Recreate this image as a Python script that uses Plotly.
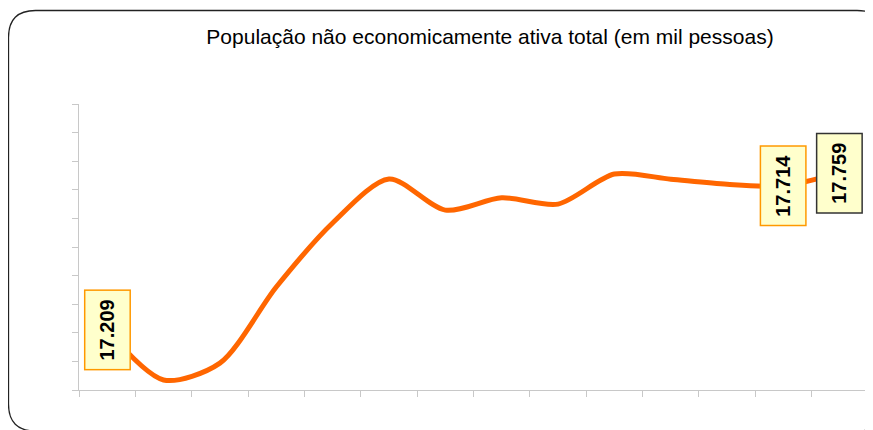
import plotly.graph_objects as go

# Data
periods = list(range(14))
values = [17.209, 17.035, 17.094, 17.360, 17.584, 17.738, 17.629, 17.672,
          17.650, 17.755, 17.737, 17.719, 17.714, 17.759]
label_idx = [0, 12, 13]
label_texts = ["17.209", "17.714", "17.759"]
label_borders = ["#FF9900", "#FF9900", "#333333"]
title_text = "População não economicamente ativa total (em mil pessoas)"

# page has an 8px body margin; work in window pixels and shift
OFF = 8
W, H = 873 - OFF, 430 - OFF
PL, PR, PT, PB = 79, 868, 104, 390   # plot area in window pixels
L, R, T, B = PL - OFF, W - (PR - OFF), PT - OFF, H - (PB - OFF)
pw, ph = PR - PL, PB - PT

def px_to_paper(x, y):
    return (x - PL) / pw, (PB - y) / ph

fig = go.Figure()
fig.add_trace(go.Scatter(
    x=periods, y=values, mode="lines",
    line=dict(color="#FF6600", width=5, shape="spline", smoothing=0.8),
    hoverinfo="skip", showlegend=False, cliponaxis=False,
))

for i, t, bc in zip(label_idx, label_texts, label_borders):
    fig.add_annotation(
        x=periods[i], y=values[i], text="<b>%s</b>" % t, showarrow=False,
        textangle=-90, xanchor="center", yanchor="middle",
        width=74, height=40, align="center", valign="middle",
        font=dict(family="Liberation Sans, Arial", size=20, color="black"),
        bgcolor="#FFFFCC", bordercolor=bc, borderwidth=1.5, borderpad=2,
    )

# rounded outer border (window pixels)
x0, y0, x1, y1, r = 8.5, 10.5, 884, 431, 27
def P(x, y):
    a, b = px_to_paper(x, y)
    return "%.5f,%.5f" % (a, b)
path = ("M " + P(x0 + r, y0) + " L " + P(x1 - r, y0) +
        " Q " + P(x1, y0) + " " + P(x1, y0 + r) +
        " L " + P(x1, y1 - r) + " Q " + P(x1, y1) + " " + P(x1 - r, y1) +
        " L " + P(x0 + r, y1) + " Q " + P(x0, y1) + " " + P(x0, y1 - r) +
        " L " + P(x0, y0 + r) + " Q " + P(x0, y0) + " " + P(x0 + r, y0) + " Z")
fig.add_shape(type="path", path=path, xref="paper", yref="paper",
              line=dict(color="#222222", width=1.3), layer="below")

fig.update_layout(
    width=W, height=H,
    margin=dict(l=L, r=R, t=T, b=B),
    paper_bgcolor="white", plot_bgcolor="white",
    title=dict(text=title_text, x=(490 - OFF) / W, xanchor="center",
               y=1 - (37 - OFF) / H, yanchor="middle",
               font=dict(family="Liberation Sans, Arial", size=21, color="black")),
    xaxis=dict(range=[-0.5, 13.5], tickmode="array",
               tickvals=[k - 0.5 for k in range(15)], showticklabels=False,
               ticks="outside", ticklen=6, tickcolor="#C8C8C8", tickwidth=1,
               showline=True, linecolor="#C8C8C8", linewidth=1,
               showgrid=False, zeroline=False, fixedrange=True),
    yaxis=dict(range=[17.0, 18.0], tickmode="linear", tick0=17.0, dtick=0.1,
               showticklabels=False, ticks="outside", ticklen=6,
               tickcolor="#C8C8C8", tickwidth=1,
               showline=True, linecolor="#C8C8C8", linewidth=1,
               showgrid=False, zeroline=False, fixedrange=True),
)

fig.write_html("out.html")
